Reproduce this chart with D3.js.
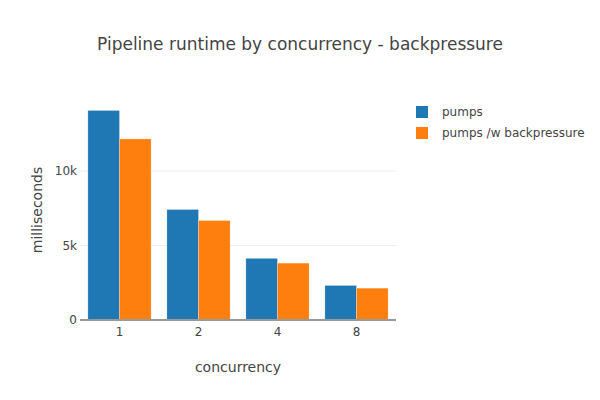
<!DOCTYPE html>
<html lang="en">
<head>
    <meta charset="UTF-8">
    <title>Pipeline runtime by concurrency - backpressure</title>
    <script src="https://cdn.jsdelivr.net/npm/d3@7"></script>
    <style>
        body { margin: 0; background: #fff; }
        text { font-family: "DejaVu Sans", Verdana, sans-serif; fill: #444; }
    </style>
</head>
<body>
<svg width="600" height="400"></svg>
<script>
    // data
    var concurrency = ['1', '2', '4', '8'];
    var pumps = [14070, 7420, 4140, 2320];
    var pumpsBackpressure = [12160, 6680, 3820, 2140];
    var seriesNames = ['pumps', 'pumps /w backpressure'];
    var seriesColors = ['#1f77b4', '#ff7f0e'];
    var yTicks = [0, 5000, 10000];

    var svg = d3.select('svg');
    var margin = {left: 80, top: 100, right: 204, bottom: 80};
    var w = 600 - margin.left - margin.right;
    var h = 400 - margin.top - margin.bottom;

    var g = svg.append('g').attr('transform', 'translate(' + margin.left + ',' + margin.top + ')');

    var x = d3.scaleBand().domain(concurrency).range([0, w]).paddingInner(0.2).paddingOuter(0.1);
    var xSub = d3.scaleBand().domain([0, 1]).range([0, x.bandwidth()]);
    var ymax = d3.max(pumps.concat(pumpsBackpressure)) * 1.05;
    var y = d3.scaleLinear().domain([0, ymax]).range([h, 0]);

    // grid lines
    g.selectAll('.grid').data(yTicks.filter(function(d){ return d > 0; }))
        .enter().append('line')
        .attr('x1', 0).attr('x2', w)
        .attr('y1', function(d){ return y(d); })
        .attr('y2', function(d){ return y(d); })
        .attr('stroke', '#eee');

    var rows = concurrency.map(function(c, i){
        return {c: c, vals: [pumps[i], pumpsBackpressure[i]]};
    });

    var grp = g.selectAll('.grp').data(rows).enter().append('g')
        .attr('transform', function(d){ return 'translate(' + x(d.c) + ',0)'; });
    grp.selectAll('rect').data(function(d){ return d.vals; })
        .enter().append('rect')
        .attr('x', function(d, i){ return xSub(i); })
        .attr('width', xSub.bandwidth())
        .attr('y', function(d){ return y(d); })
        .attr('height', function(d){ return h - y(d); })
        .attr('fill', function(d, i){ return seriesColors[i]; })
        .attr('stroke', 'rgba(255,255,255,0.5)')
        .attr('stroke-width', 0.5);

    // zero line
    g.append('line').attr('x1', 0).attr('x2', w).attr('y1', h).attr('y2', h)
        .attr('stroke', '#999').attr('stroke-width', 2);

    // y axis
    var yAxis = g.append('g').call(d3.axisLeft(y).tickValues(yTicks)
        .tickFormat(function(d){ return d === 0 ? '0' : (d / 1000) + 'k'; })
        .tickSize(0).tickPadding(3));
    yAxis.select('.domain').remove();
    yAxis.selectAll('text').style('font-size', '12px').attr('fill', '#444')
        .style('font-family', '"DejaVu Sans", Verdana, sans-serif');

    // x axis
    var xAxis = g.append('g').attr('transform', 'translate(0,' + h + ')')
        .call(d3.axisBottom(x).tickSize(0).tickPadding(7));
    xAxis.select('.domain').remove();
    xAxis.selectAll('text').style('font-size', '12px').attr('fill', '#444')
        .style('font-family', '"DejaVu Sans", Verdana, sans-serif');

    // titles
    svg.append('text').attr('x', 300).attr('y', 50).attr('text-anchor', 'middle')
        .style('font-size', '17px').text('Pipeline runtime by concurrency - backpressure');
    svg.append('text').attr('x', margin.left + w / 2).attr('y', 372).attr('text-anchor', 'middle')
        .style('font-size', '14px').text('concurrency');
    svg.append('text').attr('transform', 'translate(42,' + (margin.top + h / 2) + ') rotate(-90)')
        .attr('text-anchor', 'middle').style('font-size', '14px').text('milliseconds');

    // legend
    var leg = svg.selectAll('.leg').data(seriesNames).enter().append('g')
        .attr('transform', function(d, i){ return 'translate(416,' + (106 + i * 21) + ')'; });
    leg.append('rect').attr('width', 12).attr('height', 12)
        .attr('fill', function(d, i){ return seriesColors[i]; });
    leg.append('text').attr('x', 26).attr('y', 10).style('font-size', '12px')
        .text(function(d){ return d; });
</script>
</body>
</html>
